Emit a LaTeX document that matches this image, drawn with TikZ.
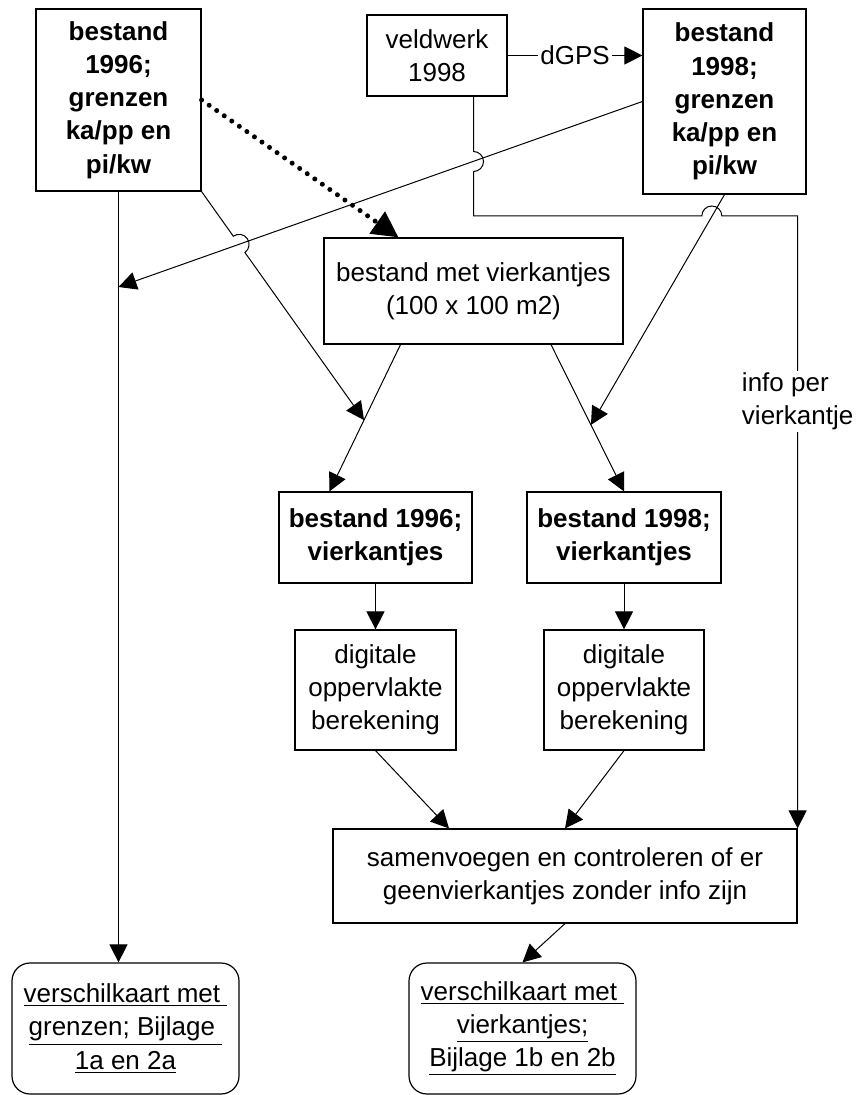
\documentclass[tikz,border=0pt]{standalone}
\usepackage{fontspec}
\setmainfont{Liberation Sans}
\usetikzlibrary{arrows.meta,calc}
\newcommand\diagfont{\fontsize{13}{16.6}\selectfont}

\begin{document}
\begin{tikzpicture}[x=0.5pt, y=-0.5pt,
  box/.style={draw, line width=0.6pt, inner sep=0pt, align=center, font=\diagfont},
  bbox/.style={box, font=\diagfont\bfseries},
  endbox/.style={box, rounded corners=9pt},
  arr/.style={line width=0.5pt, -{Triangle[length=9pt,width=9pt]}},
  dotarr/.style={line width=2.5pt, line cap=round, dash pattern=on 0pt off 4.6pt, -{Triangle[length=13pt,width=13pt]}},
  lbl/.style={fill=white, inner sep=1pt, font=\diagfont, align=left}]
  \useasboundingbox (0,0) rectangle (857,1095);

  % sources
  \node[bbox, minimum width=82.5pt, minimum height=91pt] (best96) at (118.5,100) {bestand\\1996;\\grenzen\\ka/pp en\\pi/kw};
  \node[box, minimum width=70pt, minimum height=40.5pt] (veldwerk) at (437,55.5) {veldwerk\\1998};
  \node[bbox, minimum width=81.5pt, minimum height=92.5pt] (best98) at (724.5,101.5) {bestand\\1998;\\grenzen\\ka/pp en\\pi/kw};
  \node[box, minimum width=149.5pt, minimum height=53pt] (raster) at (473.5,291) {bestand met vierkantjes\\(100 x 100 m2)};

  % processing
  \node[bbox, minimum width=96.5pt, minimum height=45.5pt] (vk96) at (375.5,537.5) {bestand 1996;\\vierkantjes};
  \node[bbox, minimum width=97pt, minimum height=45.5pt] (vk98) at (624,537.5) {bestand 1998;\\vierkantjes};
  \node[box, minimum width=80.5pt, minimum height=60pt] (opp96) at (375.5,690) {digitale\\oppervlakte\\berekening};
  \node[box, minimum width=80pt, minimum height=60pt] (opp98) at (624,690) {digitale\\oppervlakte\\berekening};
  \node[box, minimum width=232pt, minimum height=47pt] (samen) at (565,876) {samenvoegen en controleren of er\\geenvierkantjes zonder info zijn};

  % results
  \node[endbox, minimum width=113.5pt, minimum height=65.5pt] (kaart1) at (125.5,1028.5) {\underline{verschilkaart met\ }\\\underline{grenzen; Bijlage\ }\\\underline{1a en 2a}};
  \node[endbox, minimum width=113.5pt, minimum height=65.5pt] (kaart2) at (522.5,1028.5) {\underline{verschilkaart met\ }\\\underline{vierkantjes;}\\\underline{Bijlage 1b en 2b}};

  \coordinate (r96) at ($(raster.south)+(-73,0)$);
  \coordinate (t96) at ($(vk96.north)+(-46,0)$);
  \coordinate (r98) at ($(raster.south)+(77.5,0)$);
  \coordinate (hit96) at ($(r96)!0.514!(t96)$);
  \coordinate (hit98) at ($(r98)!0.547!(vk98.north)$);

  \draw[arr] (r96) -- (t96);
  \draw[arr] (r98) -- (vk98.north);
  \draw[arr] (best96.south) -- (best96.south |- kaart1.north);
  \draw[arr] (best98.west) -- (best96.south |- 0,287);
  \draw[arr] (best96.south east) -- (233.3,236.2) arc[start angle=234.5, end angle=414.5, radius=10] -- (hit96);
  \draw[arr] (best98.south) -- (hit98);
  \draw[dotarr] (best96.east) -- ($(raster.north)+(-75,0)$);
  \draw[arr] (veldwerk.east) -- node[lbl] {dGPS} (veldwerk.east -| best98.west);
  \draw[arr] (raster.north |- veldwerk.south) -- (473.5,151.5) arc[start angle=-90, end angle=90, radius=10]
    -- (473.5,216) -- (701.8,216) arc[start angle=180, end angle=360, radius=10]
    -- (samen.north east |- 0,216) -- node[lbl, pos=0.303] {info per\\vierkantje} (samen.north east);

  \draw[arr] (vk96) -- (opp96);
  \draw[arr] (vk98) -- (opp98);
  \draw[arr] (opp96.south) -- ($(samen.north)+(-116,0)$);
  \draw[arr] (opp98.south) -- (samen.north);
  \draw[arr] (samen.south) -- (kaart2.north);
\end{tikzpicture}
\end{document}
